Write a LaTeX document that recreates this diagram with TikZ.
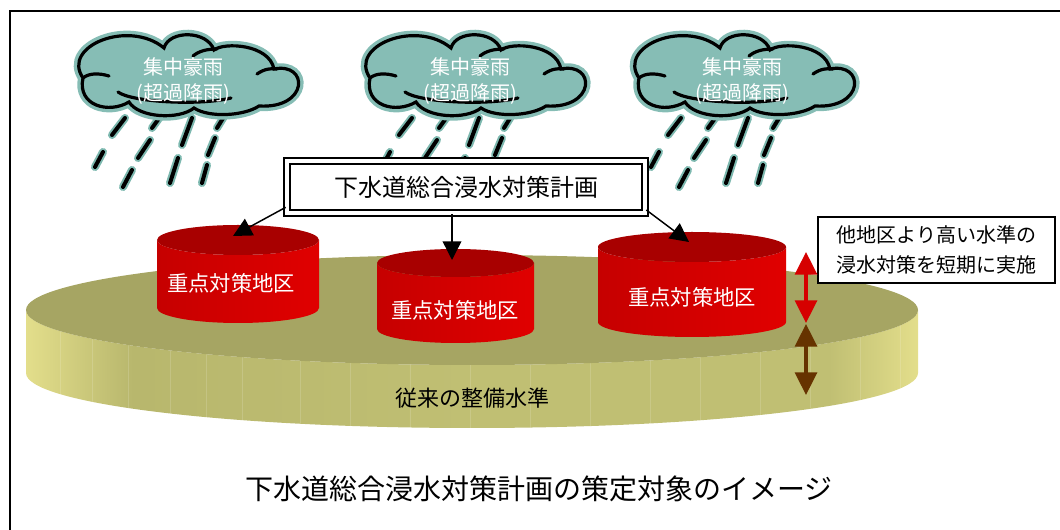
\documentclass[tikz,border=0pt]{standalone}
\usepackage{fontspec}
\newfontfamily\jp{Noto Sans CJK JP}
\usetikzlibrary{arrows.meta}

\definecolor{cloudteal}{HTML}{86BDB5}
\definecolor{dropteal}{HTML}{7DB8AF}
\definecolor{zonetop}{HTML}{A80000}
\definecolor{zoneleft}{HTML}{C60000}
\definecolor{zonemid}{HTML}{B90000}
\definecolor{zoneright}{HTML}{E00000}
\definecolor{basetop}{HTML}{A6A563}
\definecolor{baseedge}{HTML}{E3DE8B}
\definecolor{basedark}{HTML}{B8B76D}
\definecolor{basemid}{HTML}{C0BF73}
\definecolor{upred}{HTML}{D60000}
\definecolor{downbrown}{HTML}{663300}

% side of the base disc: light rims, olive body
\pgfdeclarehorizontalshading{basesideshade}{100bp}{
  color(0bp)=(baseedge); color(25bp)=(baseedge); color(31bp)=(basedark);
  color(50bp)=(basemid); color(70bp)=(basemid); color(75bp)=(baseedge);
  color(100bp)=(baseedge)}

% outline of one cloud, in pixel units around its centre
\def\cloudoutline{(-106,4) .. controls (-128,-28) and (-60,-55) .. (-25,-26)
  .. controls (-20,-44) and (18,-44) .. (25,-24)
  .. controls (35,-32) and (80,-30) .. (85,-5)
  .. controls (120,-12) and (120,35) .. (70,32)
  .. controls (55,42) and (20,44) .. (5,34)
  .. controls (-10,46) and (-50,44) .. (-60,28)
  .. controls (-80,40) and (-112,32) .. cycle}

\tikzset{
  raindrop/.style={line width=3pt, line cap=round,
    preaction={draw=dropteal, line width=6pt, line cap=round}},
  cloudline/.style={line width=2.4pt, line cap=round},
  raincloud/.pic={
    \foreach \ax/\ay/\bx/\by in {-64/44/-77/61, -29/43/-37/54, 3/44/-7/71,
        36/41/28/54, -86/78/-94/93, -39/66/-51/84, -11/84/-19/109,
        26/64/19/81, -57/96/-66/113, 18/91/13/109}
      \draw[raindrop] (\ax,\ay) -- (\bx,\by);
    \draw[cloudline, preaction={fill=cloudteal, draw=cloudteal, line width=7.5pt}] \cloudoutline;
    \draw[cloudline] (-106,4) .. controls (-100,-1) and (-90,-1) .. (-80,2);
    \draw[cloudline] (4,-18) .. controls (10,-23) and (18,-25) .. (28,-25);
    \draw[cloudline] (68,0) .. controls (75,-5) and (82,-6) .. (88,-5);
    \draw[cloudline] (-71,18) .. controls (-58,28) and (10,32) .. (42,24);
  },
  cloudtext/.style={text=white, align=center,
    font=\jp\fontsize{15pt}{20pt}\selectfont},
  zonetext/.style={text=white, font=\jp\fontsize{16pt}{20pt}\selectfont},
  planbox/.style={draw=black, line width=1.5pt, double=white, double distance=3pt,
    fill=white, minimum width=269pt, minimum height=39pt, inner sep=0pt,
    font=\jp\fontsize{18pt}{22pt}\selectfont},
  notebox/.style={draw=black, line width=1.1pt, fill=white, align=center,
    minimum width=178pt, minimum height=49.5pt, inner sep=0pt,
    font=\jp\fontsize{15pt}{22.5pt}\selectfont},
  planarrow/.style={line width=1.1pt, -{Triangle[length=14pt, width=14pt]}},
  levelarrow/.style={line width=2.5pt,
    {Triangle[length=17pt, width=16.5pt]}-{Triangle[length=17pt, width=16.5pt]}},
}

% red drum standing on the base: #1 centre x, #2 top y, #3 bottom y, #4 x radius, #5 y radius
\newcommand{\zonedrum}[5]{%
  \path[left color=zoneleft, middle color=zonemid, right color=zoneright]
    (#1-#4,#2) -- (#1-#4,#3)
    arc[start angle=180, end angle=0, x radius=#4, y radius=#5]
    -- (#1+#4,#2)
    arc[start angle=0, end angle=180, x radius=#4, y radius=#5] -- cycle;
  \fill[zonetop] (#1,#2) ellipse[x radius=#4, y radius=#5];
}

\begin{document}
\begin{tikzpicture}[x=0.75pt, y=-0.75pt]
\useasboundingbox (0,0) rectangle (1060,530);

% frame
\coordinate (frameBL) at (10,531);
\coordinate (frameTL) at (10,11);
\coordinate (frameTR) at (1061,11);
\draw[line width=1.5pt] (frameBL) -- (frameTL) -- (frameTR);

% clouds with rain
\pic (cloudA) at (189,74) {raincloud};
\pic (cloudB) at (476,74) {raincloud};
\pic (cloudC) at (745,74) {raincloud};
\node[cloudtext] (cloudAtext) at (183,81) {集中豪雨\\(超過降雨)};
\node[cloudtext] (cloudBtext) at (470,81) {集中豪雨\\(超過降雨)};
\node[cloudtext] (cloudCtext) at (742,81) {集中豪雨\\(超過降雨)};

% base disc: ordinary service level
\path[shading=basesideshade]
  (26,310) -- (26,373)
  arc[start angle=180, end angle=0, x radius=446, y radius=55]
  -- (918,310)
  arc[start angle=0, end angle=180, x radius=446, y radius=55] -- cycle;
\begin{scope}
  \clip (26,310) -- (26,373)
    arc[start angle=180, end angle=0, x radius=446, y radius=55]
    -- (918,310) -- cycle;
  \foreach \sx in {60,92,128,170,206,242,300,350,410,470,530,590,650,700,760,810,860,900}
    \draw[white, opacity=0.15, line width=0.5pt] (\sx,300) -- (\sx,440);
\end{scope}
\fill[basetop] (472,310) ellipse[x radius=446, y radius=55];
\node[font=\jp\fontsize{16.5pt}{20pt}\selectfont] (basetext) at (472,398) {従来の整備水準};

% priority districts
\zonedrum{238}{240}{308}{81}{15}
\zonedrum{455.5}{263}{329}{78.5}{14}
\zonedrum{692}{247}{322}{94}{15}
\node[zonetext] (zoneA) at (231,283) {重点対策地区};
\node[zonetext] (zoneB) at (455,310) {重点対策地区};
\node[zonetext] (zoneC) at (692,297) {重点対策地区};
\coordinate (zoneAtip) at (233,236);
\coordinate (zoneBtip) at (452,260);
\coordinate (zoneCtip) at (689,242);

% plan box and its arrows
\node[planbox] (plan) at (466,187) {下水道総合浸水対策計画};
\draw[planarrow] ([yshift=5pt]plan.south west) -- (zoneAtip);
\draw[planarrow] ([xshift=-10.5pt]plan.south) -- (zoneBtip);
\draw[planarrow] ([yshift=3pt]plan.south east) -- (zoneCtip);

% note and level arrows
\node[notebox] (note) at (936.5,250) {他地区より高い水準の\\浸水対策を短期に実施};
\coordinate (redTop) at (806,252);
\coordinate (redBot) at (806,323);
\coordinate (brownTop) at (806,324);
\coordinate (brownBot) at (806,395);
\draw[levelarrow, upred] (redTop) -- (redBot);
\draw[levelarrow, downbrown] (brownTop) -- (brownBot);

% caption
\node[font=\jp\fontsize{21pt}{25pt}\selectfont] (caption) at (539,489)
  {下水道総合浸水対策計画の策定対象のイメージ};
\end{tikzpicture}
\end{document}
